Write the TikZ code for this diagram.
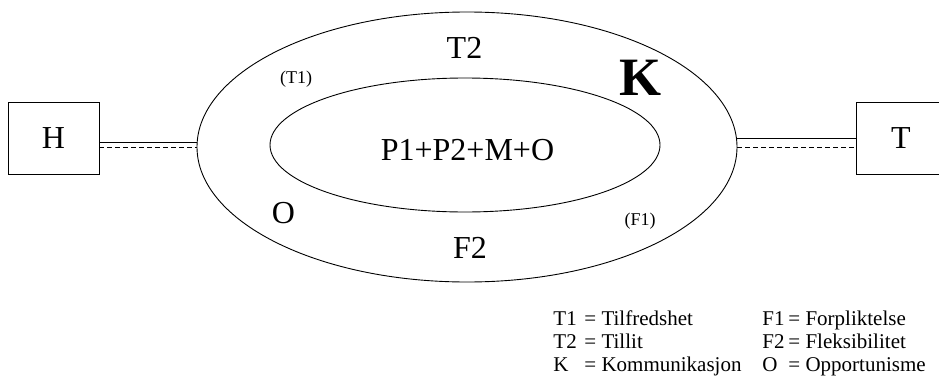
\documentclass[tikz,border=0pt]{standalone}
\usepackage{fontspec}
\setmainfont{Liberation Serif}
\usetikzlibrary{shapes.geometric}
\begin{document}
\begin{tikzpicture}[x=1pt,y=-1pt,line width=0.9pt,
  big/.style={inner sep=0pt,anchor=base,font=\fontsize{32}{34}\selectfont},
  small/.style={inner sep=0pt,anchor=base,font=\fontsize{18}{20}\selectfont},
  leg/.style={inner sep=0pt,anchor=base west,font=\fontsize{21}{23}\selectfont},
  ring/.style={draw,ellipse,inner sep=0pt},
  boxnode/.style={draw,inner sep=0pt,font=\fontsize{32}{34}\selectfont},
  dashline/.style={dash pattern=on 5pt off 3pt}]
\useasboundingbox (0,0) rectangle (939,380);
\node[ring,minimum width=540,minimum height=270] (outer) at (467,147) {};
\node[ring,minimum width=390,minimum height=134] (inner) at (465,145) {};
\node[boxnode,minimum width=91,minimum height=72] (H) at (53.5,138) {H};
\node[boxnode,minimum width=90,minimum height=72] (T) at (901,138) {T};
% connectors
\draw ([yshift=-4pt]H.east) -- ([yshift=5pt]outer.west);
\draw[dashline] ([yshift=-9pt]H.east) -- (outer.west);
\draw ([yshift=9pt]outer.east) -- (T.west);
\draw[dashline] (outer.east) -- ([yshift=-9pt]T.west);
% labels
\node[big] (t2) at (464.5,58) {T2};
\node[inner sep=0pt,anchor=base,font=\fontsize{54}{56}\selectfont\bfseries] (k) at (640,95) {K};
\node[small] (t1) at (296,83) {(T1)};
\node[big] (o) at (283.5,223) {O};
\node[big] (f2) at (470,258) {F2};
\node[small] (f1) at (640,225) {(F1)};
\node[big] (p) at (467.5,160) {P1+P2+M+O};
% legend
\node[leg] (l1a) at (553,325) {T1};
\node[leg] (l1b) at (584,325) {= Tilfredshet};
\node[leg] (l2a) at (553,348) {T2};
\node[leg] (l2b) at (584,348) {= Tillit};
\node[leg] (l3a) at (553,371) {K};
\node[leg] (l3b) at (584,371) {= Kommunikasjon};
\node[leg] (l4a) at (762,325) {F1};
\node[leg] (l4b) at (788,325) {= Forpliktelse};
\node[leg] (l5a) at (762,348) {F2};
\node[leg] (l5b) at (788,348) {= Fleksibilitet};
\node[leg] (l6a) at (762,371) {O};
\node[leg] (l6b) at (788,371) {= Opportunisme};
\end{tikzpicture}
\end{document}
